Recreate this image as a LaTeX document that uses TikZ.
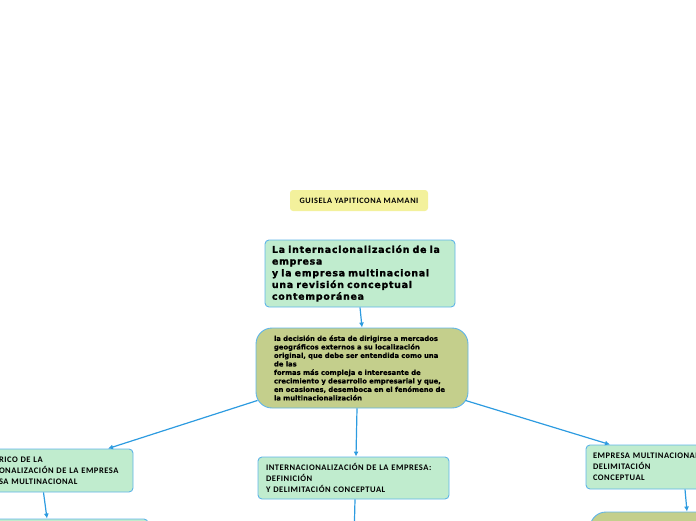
\documentclass[tikz,border=0pt]{standalone}
\usepackage{fontspec}
\setmainfont{Carlito}
\newfontfamily\capsfont[LetterSpace=6]{Carlito}
\newfontfamily\namefont[LetterSpace=7]{Carlito}
\newfontfamily\heavyfont[FakeBold=1.6, LetterSpace=8]{DejaVu Sans}
\newfontfamily\midfont[FakeBold=0.6]{DejaVu Sans}
\usetikzlibrary{arrows.meta}
\definecolor{bord}{HTML}{5FB4E8}
\definecolor{conncol}{HTML}{2D9BE0}
\definecolor{ylw}{HTML}{F3F19C}
\definecolor{lgreen}{HTML}{C0ECCE}
\definecolor{olive}{HTML}{C4CF8C}
\tikzset{
  box/.style={draw=bord, line width=0.9pt, rounded corners=4pt, anchor=center, align=left, inner ysep=0pt},
  greenbox/.style={box, fill=lgreen},
  olivebox/.style={box, fill=olive, rounded corners=16pt},
  capstext/.style={font=\capsfont\bfseries\fontsize{8.5}{11}\selectfont},
  conn/.style={draw=conncol, line width=1.2pt, -{Latex[length=5pt,width=5pt]}},
  plainconn/.style={draw=conncol, line width=1.2pt}
}
\begin{document}
\begin{tikzpicture}[x=1pt,y=-1pt]
\useasboundingbox (0,0) rectangle (696,520);
% name box
\node[box, draw=none, fill=ylw, rounded corners=3pt, minimum width=138pt, minimum height=21pt, align=center, font=\namefont\bfseries\fontsize{8.2}{9}\selectfont] (name) at (359,200.5) {GUISELA YAPITICONA MAMANI};
% title
\node[greenbox, minimum width=190pt, minimum height=67pt, text width=176pt, inner xsep=7pt, font=\heavyfont\bfseries\fontsize{9.4}{11.7}\selectfont] (title) at (360,273.5)
{La internacionalización de la\\empresa\\y la empresa multinacional\\una revisión conceptual\\contemporánea};
% middle
\node[olivebox, minimum width=212pt, minimum height=80pt, text width=176pt, inner xsep=18pt, font=\midfont\bfseries\fontsize{6.8}{8.5}\selectfont] (middle) at (362,368)
{la decisión de ésta de dirigirse a mercados\\geográficos externos a su localización\\original, que debe ser entendida como una\\de las\\formas más compleja e interesante de\\crecimiento y desarrollo empresarial y que,\\en ocasiones, desemboca en el fenómeno de\\la multinacionalización};
% left
\node[greenbox, capstext, minimum width=143pt, minimum height=43pt, text width=125pt, inner xsep=9pt] (leftbox) at (61.5,470.5)
{RICO DE LA\\ONALIZACIÓN DE LA EMPRESA\\SA MULTINACIONAL};
% center
\node[greenbox, capstext, minimum width=191pt, minimum height=42pt, text width=175pt, inner xsep=8pt] (centerbox) at (353.5,478)
{INTERNACIONALIZACIÓN DE LA EMPRESA:\\DEFINICIÓN\\Y DELIMITACIÓN CONCEPTUAL};
% right
\node[greenbox, capstext, minimum width=124pt, minimum height=44pt, text width=110pt, inner xsep=7pt] (rightbox) at (648,467)
{EMPRESA MULTINACIONAL\\DELIMITACIÓN\\CONCEPTUAL};
% partially visible boxes at the bottom
\node[greenbox, minimum width=158pt, minimum height=40pt] (bottomleft) at (69,539) {};
\node[olivebox, minimum width=130pt, minimum height=48pt] (bottomright) at (655,536) {};
\coordinate (below) at (354,540);
% connectors
\draw[conn] (title.south) -- (middle.north);
\draw[conn] ([shift={(2,-8)}]middle.south west) -- ([xshift=46.5]leftbox.north);
\draw[conn] ([xshift=-5]middle.south) -- ([xshift=2.5]centerbox.north);
\draw[conn] ([shift={(-3,-8)}]middle.south east) -- ([xshift=-38]rightbox.north);
\draw[conn] ([xshift=-18]leftbox.south) -- ([xshift=-22]bottomleft.north);
\draw[plainconn] ([xshift=1.5]centerbox.south) -- (below);
\draw[conn] ([xshift=37]rightbox.south) -- ([xshift=32]bottomright.north);
\end{tikzpicture}
\end{document}
